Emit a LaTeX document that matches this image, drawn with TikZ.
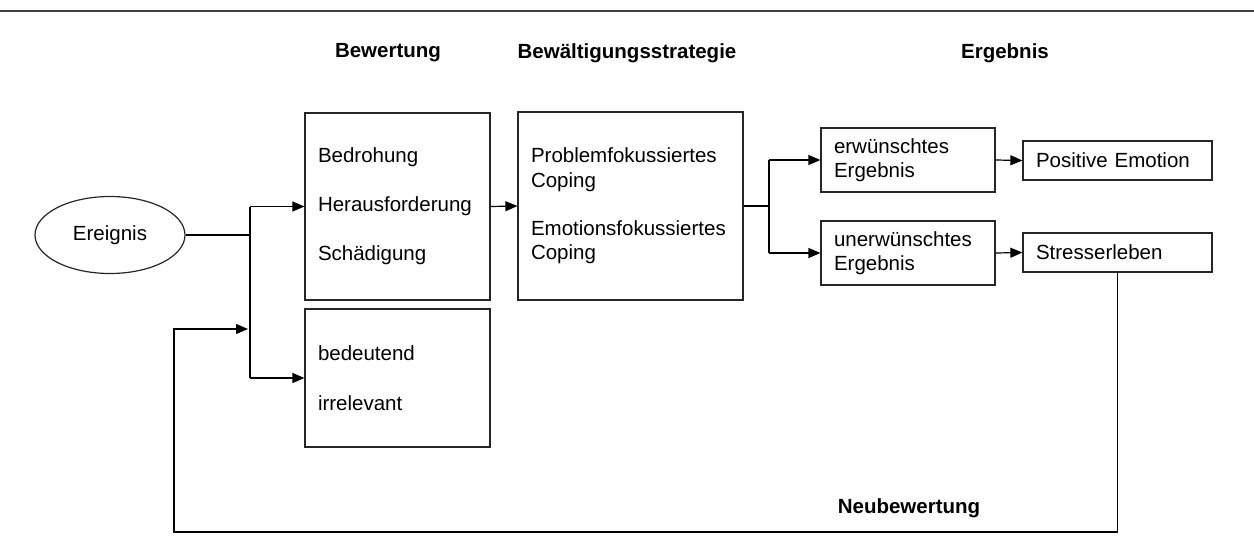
\documentclass[tikz,border=0pt]{standalone}
\usepackage{fontspec}
\setmainfont{Liberation Sans}
\usetikzlibrary{shapes.geometric,arrows.meta}
\begin{document}
\begin{tikzpicture}[x=1pt,y=-1pt,
  every node/.style={font=\fontsize{20.5}{24.6}\selectfont},
  box/.style={draw=black!85, line width=1.2pt, rectangle, inner xsep=13pt, inner ysep=0pt, align=left},
  head/.style={font=\fontsize{20.5}{24.6}\selectfont\bfseries},
  conn/.style={draw=black, line width=1.2pt},
  arr/.style={conn, -{Triangle[length=12pt,width=10pt]}}
]
\useasboundingbox (0,0) rectangle (1254,552);
\coordinate (tl) at (0,11);
\coordinate (tr) at (1254,11);
\draw[line width=2pt, black!75] (tl) -- (tr);

\node[head] (h1) at (388,53) {Bewertung};
\node[head] (h2) at (627,53) {Bewältigungsstrategie};
\node[head] (h3) at (1005,53) {Ergebnis};
\node[head] (h4) at (909,508) {Neubewertung};

\node[draw=black!85, line width=1.2pt, ellipse, minimum width=150pt, minimum height=77pt, inner sep=0pt] (ev) at (110,235) {Ereignis};

\node[box, text width=159pt, minimum height=187pt, font=\fontsize{20.5}{49}\selectfont] (b1) at (397.5,206.5) {Bedrohung\\Herausforderung\\Schädigung};
\node[box, text width=159pt, minimum height=138pt, font=\fontsize{20.5}{50}\selectfont] (b2) at (397.5,378) {bedeutend\\irrelevant};
\node[box, text width=199pt, minimum height=188pt] (cop) at (630.5,206) {Problemfokussiertes\\Coping\\[23.5pt]Emotionsfokussiertes\\Coping};
\node[box, text width=148pt, minimum height=64pt] (er) at (908,160) {erwünschtes\\Ergebnis};
\node[box, text width=148pt, minimum height=64pt] (un) at (908,253) {unerwünschtes\\Ergebnis};
\node[box, text width=163pt, minimum height=39pt] (pe) at (1117.5,160.5) {Positive Emotion};
\node[box, text width=163pt, minimum height=39pt] (st) at (1117.5,252.5) {Stresserleben};

\coordinate (j1) at (250,235);
\coordinate (j1t) at (250,206.5);
\coordinate (j1b) at (250,378);
\coordinate (j2) at (769,206);
\coordinate (j2t) at (769,160);
\coordinate (j2b) at (769,253);
\coordinate (f1) at (1117.5,532);
\coordinate (f2) at (174,532);
\coordinate (f3) at (174,329);
\coordinate (f4) at (248,329);

\draw[conn] (ev.east) -- (j1);
\draw[conn] (j1t) -- (j1b);
\draw[arr] (j1t) -- (b1.west);
\draw[arr] (j1b) -- (b2.west);
\draw[arr] (b1.east) -- (cop.west);
\draw[conn] (cop.east) -- (j2);
\draw[conn] (j2t) -- (j2b);
\draw[arr] (j2t) -- (er.west);
\draw[arr] (j2b) -- (un.west);
\draw[arr] (er.east) -- (pe.west);
\draw[arr] (un.east) -- (st.west);
\draw[arr] (st.south) -- (f1) -- (f2) -- (f3) -- (f4);
\end{tikzpicture}
\end{document}
